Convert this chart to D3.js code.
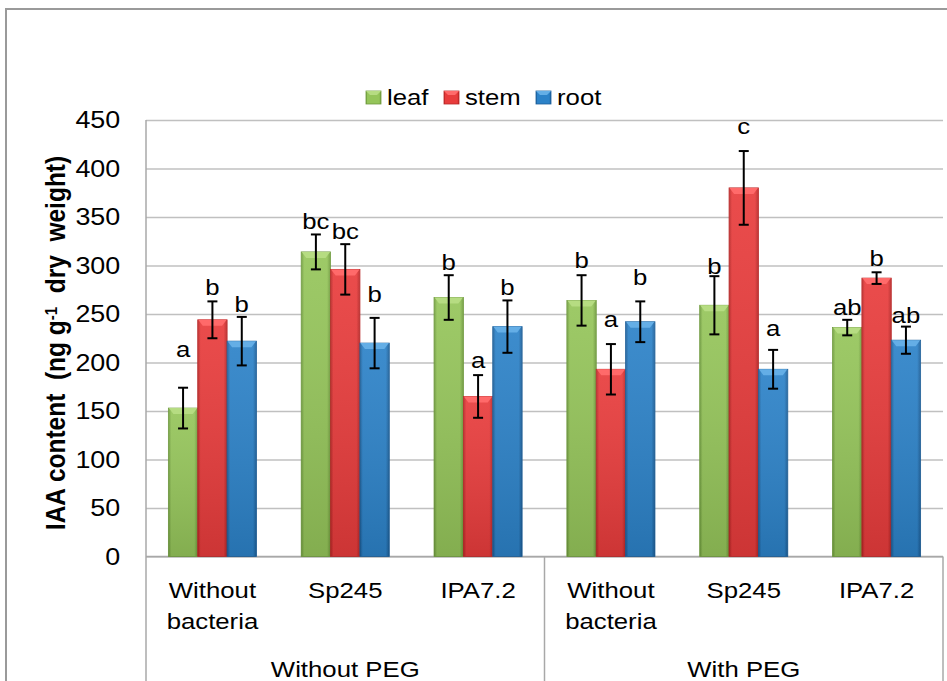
<!DOCTYPE html>
<html>
<head>
<meta charset="utf-8">
<script src="https://cdn.jsdelivr.net/npm/d3@7"></script>
<style>
  body { margin: 0; background: #fff; }
  svg { display: block; font-family: Arial, "Liberation Sans", sans-serif; }
</style>
</head>
<body>
<svg id="chart" width="947" height="681"></svg>
<script>
// treatments along the x axis, grouped by PEG condition
var treatments = ["Without|bacteria", "Sp245", "IPA7.2", "Without|bacteria", "Sp245", "IPA7.2"];
var conditions = ["Without PEG", "With PEG"];
var seriesNames = ["leaf", "stem", "root"];
var yTicks = [0, 50, 100, 150, 200, 250, 300, 350, 400, 450];

// IAA content, ng g-1 dry weight
var leaf = [153, 314, 267, 264, 259, 236];
var stem = [244, 296, 165, 193, 380, 287];
var root = [222, 220, 237, 242, 193, 223];
var leafErr = [21, 18, 23, 26, 30, 8];
var stemErr = [19, 26, 22, 26, 38, 6];
var rootErr = [25, 26, 27, 21, 20, 14];

// significance letters and the value level they sit at
var leafLetters = ["a", "bc", "b", "b", "b", "ab"];
var stemLetters = ["b", "bc", "a", "a", "c", "b"];
var rootLetters = ["b", "b", "b", "b", "a", "ab"];
var leafLetterAt = [206, 338, 295, 297, 291, 249];
var stemLetterAt = [270, 327, 194, 237, 436, 300];
var rootLetterAt = [252, 262, 270, 280, 227, 241];

var colors = {
    leaf: {main: "#95c55a", light: "#b6dc82", dark: "#6e9a3c"},
    stem: {main: "#e83c3c", light: "#ff6a6a", dark: "#b82626"},
    root: {main: "#2c82c8", light: "#64aee6", dark: "#1c5e98"}
};

var SX = 1.12; // horizontal stretch of the lettering
var svg = d3.select("#chart");
var plotL = 146, plotR = 943, plotT = 120, plotB = 556.5;

var y = d3.scaleLinear().domain([0, 450]).range([plotB, plotT]);
var x = d3.scaleBand().domain(d3.range(treatments.length)).range([plotL, plotR])
    .paddingInner(0.337).paddingOuter(0.1685);
var xs = d3.scaleBand().domain(seriesNames).range([0, x.bandwidth()]);

function stretched(sel, px, py) {
    return sel.attr("transform", "translate(" + px + "," + py + ") scale(" + SX + ",1)");
}

// gradients
var defs = svg.append("defs");
seriesNames.forEach(function(s) {
    var c = colors[s];
    var g = defs.append("linearGradient").attr("id", "grad-" + s)
        .attr("x1", 0).attr("x2", 1).attr("y1", 0).attr("y2", 0);
    [[0, c.dark], [0.1, c.main], [0.5, c.main], [0.88, c.main], [1, c.dark]].forEach(function(st) {
        g.append("stop").attr("offset", st[0]).attr("stop-color", st[1]);
    });
    var v = defs.append("linearGradient").attr("id", "shade-" + s)
        .attr("x1", 0).attr("x2", 0).attr("y1", 0).attr("y2", 1);
    v.append("stop").attr("offset", 0).attr("stop-color", "#fff").attr("stop-opacity", 0.08);
    v.append("stop").attr("offset", 1).attr("stop-color", "#000").attr("stop-opacity", 0.12);
});

// outer chart border
svg.append("rect").attr("x", 6).attr("y", 9).attr("width", 960).attr("height", 700)
    .attr("fill", "none").attr("stroke", "#9a9a9a").attr("stroke-width", 2);

// gridlines
svg.append("g")
    .attr("transform", "translate(" + plotL + ",0)")
    .call(d3.axisRight(y).tickValues(yTicks).tickSize(plotR - plotL).tickFormat(""))
    .call(function(g) { g.select(".domain").remove(); })
    .selectAll("line").attr("stroke", "#c0c0c0").attr("stroke-width", 1.5);

// y axis labels
var yAxis = svg.append("g")
    .attr("transform", "translate(" + plotL + ",0)")
    .call(d3.axisLeft(y).tickValues(yTicks).tickSize(0).tickPadding(23));
yAxis.select(".domain").remove();
yAxis.selectAll("text")
    .attr("font-size", 24).attr("fill", "#000")
    .attr("font-family", "Arial, 'Liberation Sans', sans-serif")
    .attr("transform", "scale(" + SX + ",1)");

// axis lines and category box
svg.append("line").attr("x1", plotL).attr("x2", plotL).attr("y1", plotT).attr("y2", 681)
    .attr("stroke", "#a8a8a8").attr("stroke-width", 1.5);
svg.append("line").attr("x1", plotL).attr("x2", plotR).attr("y1", plotB).attr("y2", plotB)
    .attr("stroke", "#a8a8a8").attr("stroke-width", 1.5);
[3, 6].forEach(function(i) {
    var px = i < treatments.length ? x(i) - x.step() * x.paddingInner() / 2 : plotR;
    svg.append("line").attr("x1", px).attr("x2", px).attr("y1", plotB).attr("y2", 681)
        .attr("stroke", "#a8a8a8").attr("stroke-width", 1.5);
});

// bars
var table = {leaf: leaf, stem: stem, root: root};
var errs = {leaf: leafErr, stem: stemErr, root: rootErr};
var letters = {leaf: leafLetters, stem: stemLetters, root: rootLetters};
var letterAt = {leaf: leafLetterAt, stem: stemLetterAt, root: rootLetterAt};

var rows = [];
seriesNames.forEach(function(s) {
    table[s].forEach(function(v, i) {
        rows.push({s: s, i: i, v: v, e: errs[s][i], t: letters[s][i], ty: letterAt[s][i]});
    });
});

var bars = svg.append("g").selectAll("g.bar").data(rows).enter().append("g").attr("class", "bar");
bars.append("rect")
    .attr("x", function(d) { return x(d.i) + xs(d.s); })
    .attr("y", function(d) { return y(d.v); })
    .attr("width", xs.bandwidth())
    .attr("height", function(d) { return y(0) - y(d.v); })
    .attr("fill", function(d) { return "url(#grad-" + d.s + ")"; })
    .attr("stroke", function(d) { return colors[d.s].dark; })
    .attr("stroke-width", 0.8);
bars.append("rect")
    .attr("x", function(d) { return x(d.i) + xs(d.s); })
    .attr("y", function(d) { return y(d.v); })
    .attr("width", xs.bandwidth())
    .attr("height", function(d) { return y(0) - y(d.v); })
    .attr("fill", function(d) { return "url(#shade-" + d.s + ")"; });
// top bevel
bars.append("polygon")
    .attr("points", function(d) {
        var x0 = x(d.i) + xs(d.s), x1 = x0 + xs.bandwidth(), y0 = y(d.v);
        return [[x0 + 0.5, y0], [x1 - 0.5, y0], [x1 - 5, y0 + 6], [x0 + 5, y0 + 6]].join(" ");
    })
    .attr("fill", function(d) { return colors[d.s].light; });

// error bars
var eb = svg.append("g").attr("stroke", "#000").attr("stroke-width", 2);
rows.forEach(function(d) {
    var cx = x(d.i) + xs(d.s) + xs.bandwidth() / 2;
    eb.append("line").attr("x1", cx).attr("x2", cx).attr("y1", y(d.v + d.e)).attr("y2", y(d.v - d.e));
    eb.append("line").attr("x1", cx - 5).attr("x2", cx + 5).attr("y1", y(d.v + d.e)).attr("y2", y(d.v + d.e));
    eb.append("line").attr("x1", cx - 5).attr("x2", cx + 5).attr("y1", y(d.v - d.e)).attr("y2", y(d.v - d.e));
});

// significance letters
rows.forEach(function(d) {
    var cx = x(d.i) + xs(d.s) + xs.bandwidth() / 2;
    stretched(svg.append("text"), cx, y(d.ty))
        .attr("text-anchor", "middle").attr("font-size", 23).text(d.t);
});

// category labels
treatments.forEach(function(t, i) {
    var cx = x(i) + x.bandwidth() / 2;
    t.split("|").forEach(function(line, k) {
        stretched(svg.append("text"), cx, 598 + k * 31)
            .attr("text-anchor", "middle").attr("font-size", 23).text(line);
    });
});
conditions.forEach(function(c, j) {
    var cx = (x(j * 3) + x(j * 3 + 2) + x.bandwidth()) / 2;
    stretched(svg.append("text"), cx, 677)
        .attr("text-anchor", "middle").attr("font-size", 23).text(c);
});

// y axis title
var title = svg.append("text")
    .attr("transform", "translate(65,343) rotate(-90) scale(1," + SX + ")")
    .attr("text-anchor", "middle").attr("font-size", 24.5).attr("font-weight", "bold")
    .style("white-space", "pre");
title.append("tspan").text("IAA content  (ng g");
title.append("tspan").attr("baseline-shift", "super").attr("font-size", 15).text("-1");
title.append("tspan").text("  dry  weight)");

// legend
var legendX = [366, 444, 536];
seriesNames.forEach(function(s, i) {
    var lg = svg.append("g");
    lg.append("rect").attr("x", legendX[i]).attr("y", 91).attr("width", 15).attr("height", 13)
        .attr("fill", "url(#grad-" + s + ")").attr("stroke", colors[s].dark).attr("stroke-width", 0.8);
    lg.append("polygon")
        .attr("points", [[legendX[i], 91], [legendX[i] + 15, 91], [legendX[i] + 11, 95], [legendX[i] + 4, 95]].join(" "))
        .attr("fill", colors[s].light);
    stretched(lg.append("text"), legendX[i] + 21, 105).attr("font-size", 23).text(s);
});
</script>
</body>
</html>
